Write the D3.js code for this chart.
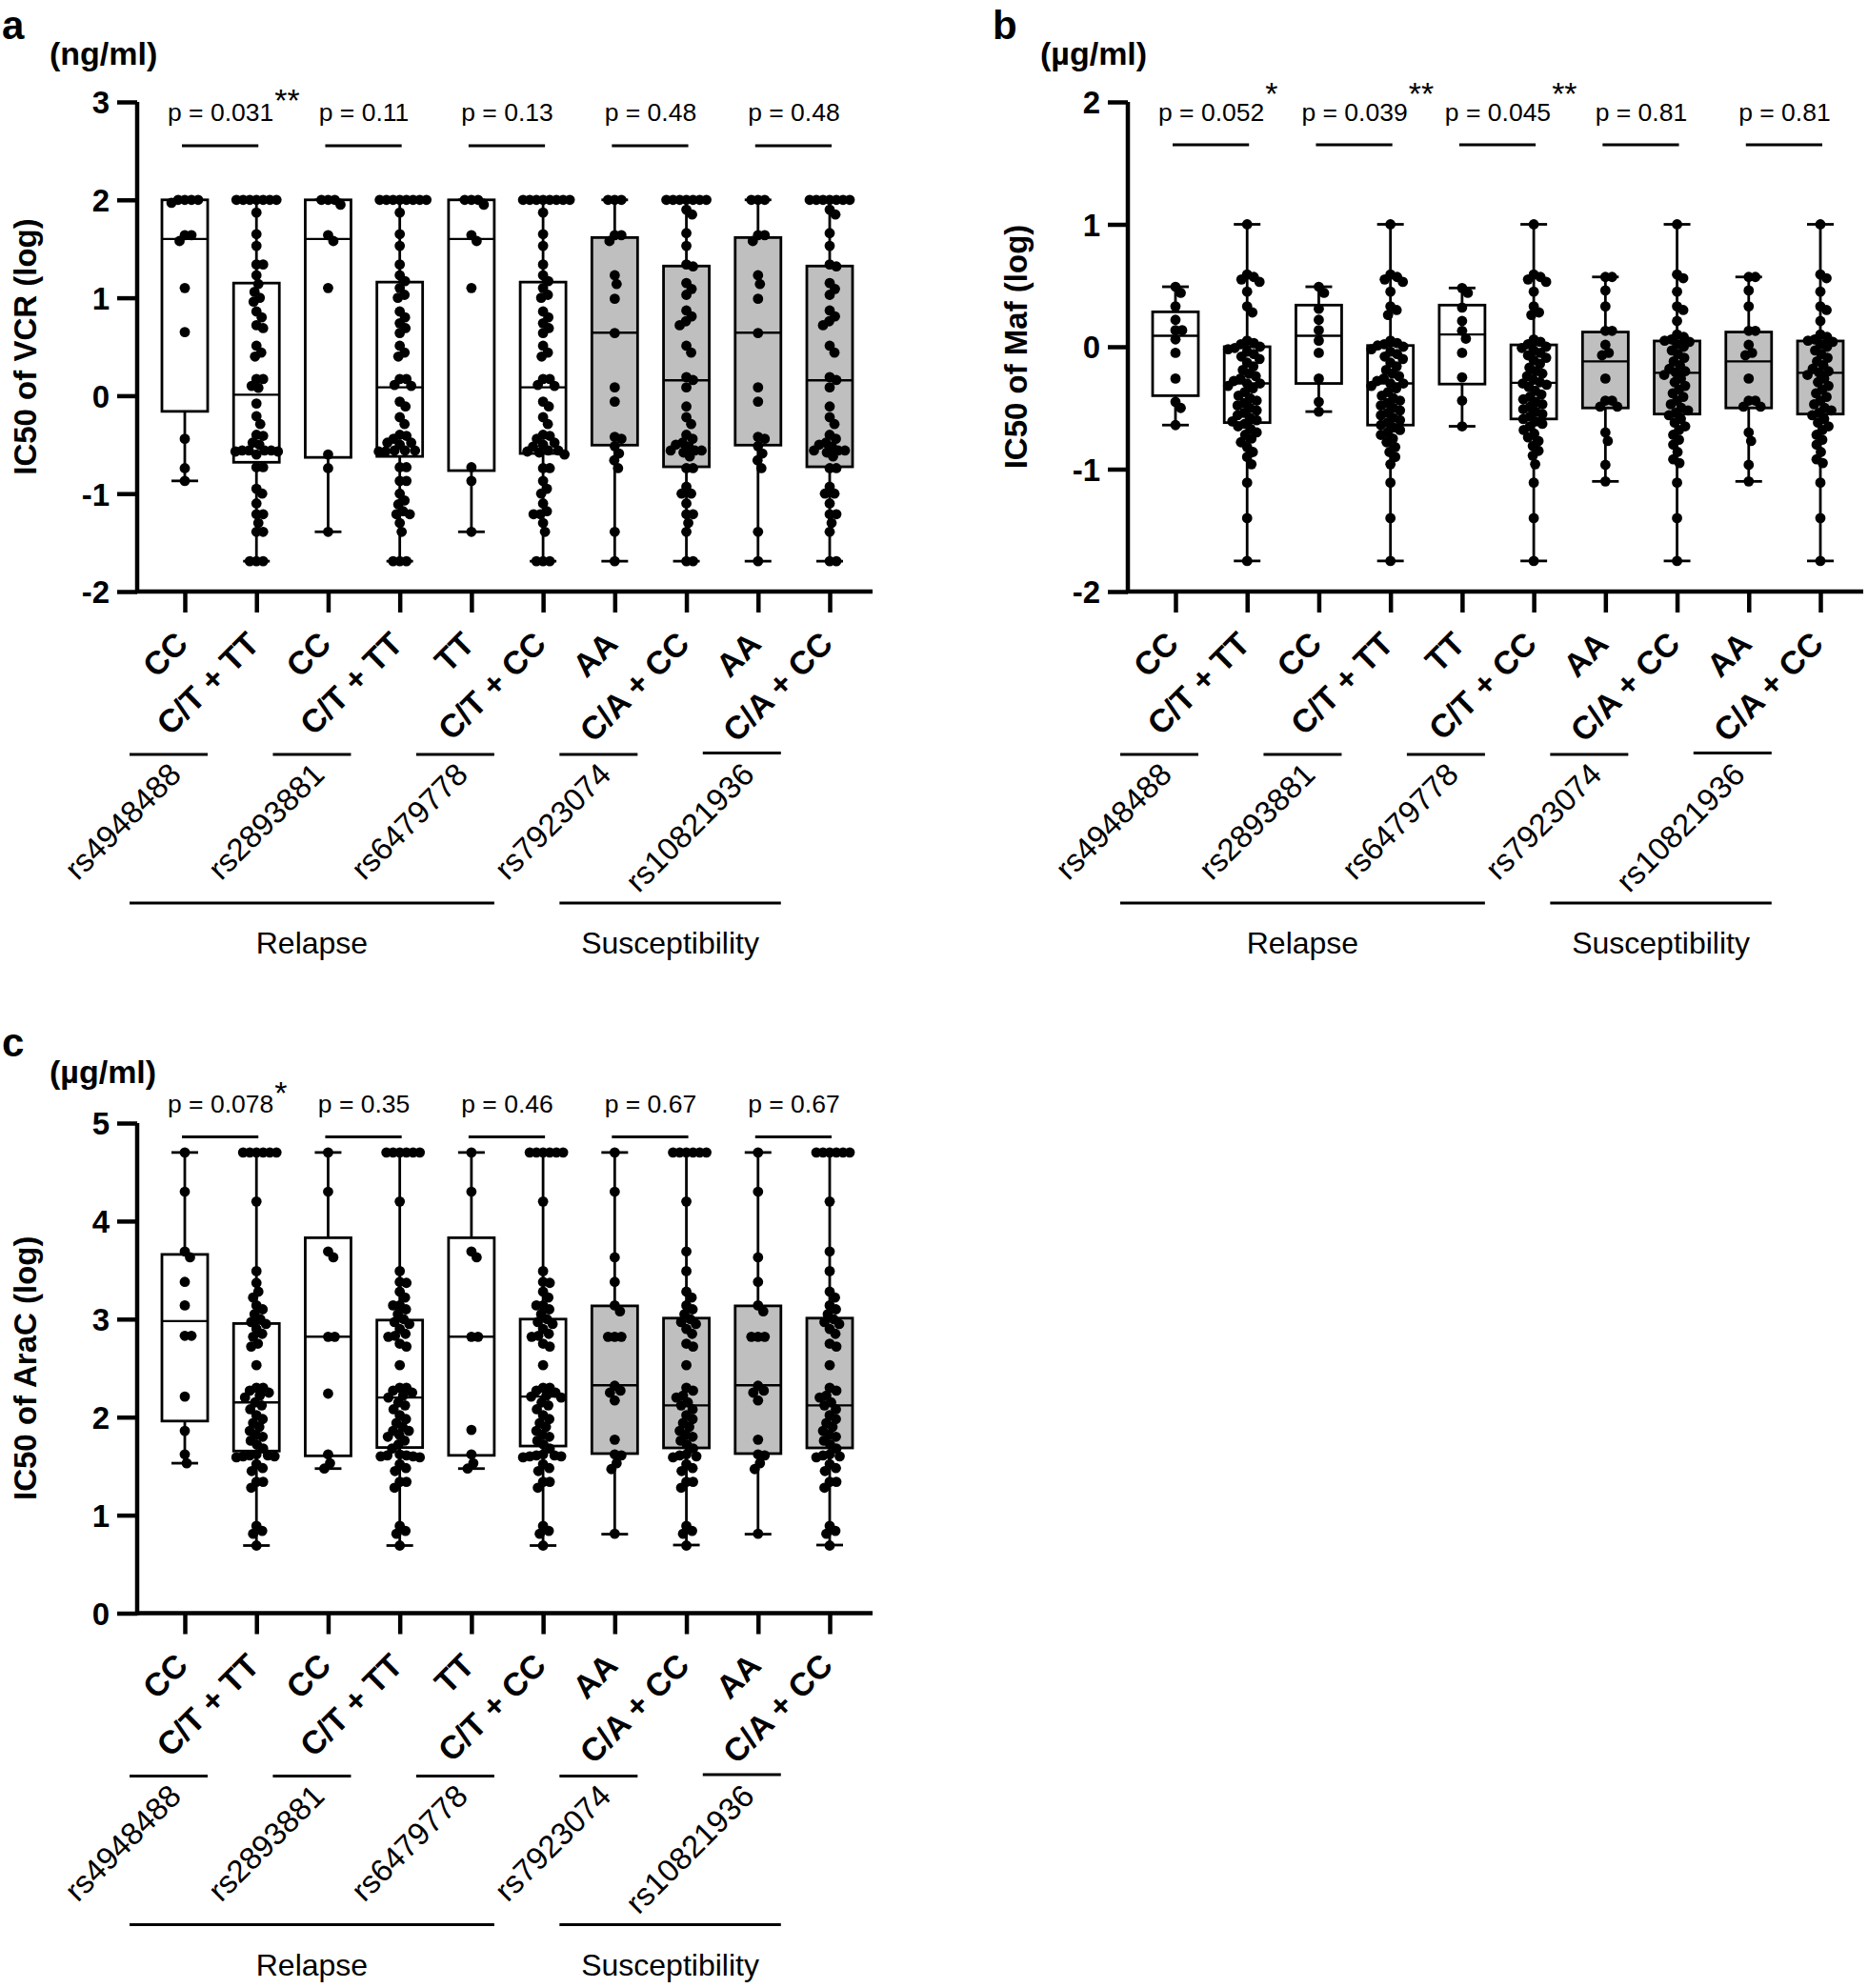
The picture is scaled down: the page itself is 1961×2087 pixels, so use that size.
<!DOCTYPE html>
<html>
<head>
<meta charset="utf-8">
<script src="https://cdn.jsdelivr.net/npm/d3@7"></script>
<style>
  html, body { margin: 0; padding: 0; background: #fff; }
  svg { display: block; font-family: "Liberation Sans", Arial, Helvetica, sans-serif; }
</style>
</head>
<body>
<svg id="chart" width="1961" height="2087"></svg>
<script>
// ---------------- DATA ----------------
const categories = ["CC", "C/T + TT", "CC", "C/T + TT", "TT", "C/T + CC", "AA", "C/A + CC", "AA", "C/A + CC"];
const snps = ["rs4948488", "rs2893881", "rs6479778", "rs7923074", "rs10821936"];
const cohortNames = ["Relapse", "Susceptibility"];
const cohortSnpCounts = [3, 2];

// Panel a : VCR
const vcrTicks = [-2, -1, 0, 1, 2, 3];
const vcrPValues = ["p = 0.031", "p = 0.11", "p = 0.13", "p = 0.48", "p = 0.48"];
const vcrStars = ["**", "", "", "", ""];
const vcrMin    = [-0.87, -1.69, -1.39, -1.69, -1.39, -1.69, -1.69, -1.69, -1.69, -1.69];
const vcrQ1     = [-0.16, -0.68, -0.63, -0.62, -0.765, -0.59, -0.505, -0.726, -0.505, -0.726];
const vcrMedian = [1.60, 0.01, 1.60, 0.085, 1.60, 0.085, 0.643, 0.157, 0.643, 0.157];
const vcrQ3     = [2.0, 1.15, 2.0, 1.16, 2.0, 1.16, 1.615, 1.324, 1.615, 1.324];
const vcrMax    = [2.0, 2.0, 2.0, 2.0, 2.0, 2.0, 2.0, 2.0, 2.0, 2.0];
const vcrCC1 = [2, 2, 2, 2, 1.97, 1.64, 1.64, 1.58, 1.1, 0.65, -0.44, -0.74, -0.87];
const vcrCT1 = [2, 2, 2, 2, 2, 2, 2, 1.87, 1.65, 1.53, 1.34, 1.34, 1.23, 1.14, 1.06, 1.0, 0.96, 0.86, 0.80, 0.72, 0.69, 0.51, 0.44, 0.40, 0.17, 0.17, 0.10, 0.08, -0.08, -0.21, -0.29, -0.40, -0.41, -0.48, -0.50, -0.56, -0.56, -0.56, -0.56, -0.57, -0.57, -0.60, -0.73, -0.73, -0.95, -1.0, -1.10, -1.21, -1.21, -1.30, -1.39, -1.39, -1.69, -1.69, -1.69];
const vcrCC2 = [2, 2, 2, 1.95, 1.64, 1.58, 1.1, -0.6, -0.74, -1.39];
const vcrCT2 = [2, 2, 2, 2, 2, 2, 2, 2, 1.87, 1.65, 1.53, 1.34, 1.23, 1.17, 1.10, 1.03, 1.0, 0.86, 0.80, 0.74, 0.69, 0.64, 0.51, 0.44, 0.40, 0.17, 0.17, 0.11, 0.10, -0.06, -0.11, -0.22, -0.29, -0.40, -0.41, -0.44, -0.48, -0.48, -0.50, -0.56, -0.56, -0.56, -0.57, -0.57, -0.73, -0.73, -0.87, -0.87, -1.0, -1.07, -1.11, -1.18, -1.21, -1.21, -1.30, -1.39, -1.69, -1.69, -1.69];
const vcrTT3 = [2, 2, 2, 1.95, 1.64, 1.58, 1.1, -0.73, -0.87, -1.39];
const vcrCT3 = [2, 2, 2, 2, 2, 2, 2, 2, 1.87, 1.65, 1.53, 1.34, 1.23, 1.17, 1.10, 1.03, 1.0, 0.86, 0.80, 0.74, 0.69, 0.64, 0.51, 0.44, 0.40, 0.17, 0.17, 0.11, 0.10, -0.06, -0.11, -0.22, -0.29, -0.40, -0.41, -0.44, -0.48, -0.50, -0.52, -0.56, -0.56, -0.57, -0.58, -0.60, -0.74, -0.74, -0.87, -0.95, -1.0, -1.10, -1.18, -1.21, -1.21, -1.30, -1.39, -1.69, -1.69, -1.69];
const vcrAA = [2, 2, 2, 1.64, 1.64, 1.58, 1.23, 1.14, 0.99, 0.64, 0.085, -0.06, -0.42, -0.44, -0.515, -0.59, -0.66, -0.74, -1.39, -1.69];
const vcrCA = [2, 2, 2, 2, 2, 2, 2, 1.90, 1.85, 1.66, 1.53, 1.34, 1.32, 1.15, 1.09, 1.03, 0.87, 0.81, 0.76, 0.72, 0.51, 0.44, 0.19, 0.16, 0.085, -0.11, -0.22, -0.29, -0.40, -0.44, -0.48, -0.50, -0.52, -0.56, -0.56, -0.56, -0.58, -0.62, -0.74, -0.74, -0.93, -1.0, -1.0, -1.10, -1.21, -1.21, -1.30, -1.39, -1.69, -1.69];
const vcrPoints = [vcrCC1, vcrCT1, vcrCC2, vcrCT2, vcrTT3, vcrCT3, vcrAA, vcrCA, vcrAA, vcrCA];

// Panel b : Maf
const mafTicks = [-2, -1, 0, 1, 2];
const mafPValues = ["p = 0.052", "p = 0.039", "p = 0.045", "p = 0.81", "p = 0.81"];
const mafStars = ["*", "**", "**", "", ""];
const mafMin    = [-0.64, -1.75, -0.53, -1.75, -0.65, -1.75, -1.10, -1.75, -1.10, -1.75];
const mafQ1     = [-0.40, -0.62, -0.30, -0.64, -0.305, -0.59, -0.50, -0.55, -0.50, -0.55];
const mafMedian = [0.09, -0.30, 0.09, -0.30, 0.10, -0.295, -0.12, -0.213, -0.12, -0.213];
const mafQ3     = [0.285, 0.0, 0.34, 0.01, 0.34, 0.015, 0.12, 0.047, 0.12, 0.047];
const mafMax    = [0.49, 1.0, 0.49, 1.0, 0.48, 1.0, 0.57, 1.0, 0.57, 1.0];
const mafCC1 = [0.49, 0.44, 0.33, 0.22, 0.135, 0.135, 0.06, -0.05, -0.26, -0.45, -0.50, -0.64];
const mafCT1 = [1.0, 0.59, 0.57, 0.55, 0.53, 0.45, 0.33, 0.28, 0.05, 0.03, 0.02, 0.0, -0.01, -0.02, -0.04, -0.06, -0.08, -0.10, -0.13, -0.16, -0.19, -0.22, -0.24, -0.26, -0.28, -0.30, -0.30, -0.32, -0.34, -0.37, -0.40, -0.42, -0.44, -0.46, -0.48, -0.50, -0.52, -0.54, -0.56, -0.58, -0.60, -0.61, -0.63, -0.65, -0.67, -0.70, -0.72, -0.75, -0.78, -0.82, -0.86, -0.90, -0.96, -1.11, -1.40, -1.75];
const mafCC2 = [0.49, 0.44, 0.31, 0.22, 0.135, 0.05, -0.05, -0.26, -0.45, -0.53];
const mafCT2 = [1.0, 0.59, 0.57, 0.55, 0.53, 0.45, 0.33, 0.30, 0.26, 0.05, 0.03, 0.02, 0.01, 0.0, -0.02, -0.04, -0.06, -0.08, -0.10, -0.13, -0.16, -0.19, -0.22, -0.24, -0.26, -0.28, -0.30, -0.30, -0.32, -0.34, -0.37, -0.40, -0.42, -0.44, -0.46, -0.48, -0.50, -0.52, -0.54, -0.56, -0.58, -0.60, -0.62, -0.64, -0.66, -0.68, -0.70, -0.72, -0.75, -0.78, -0.82, -0.86, -0.90, -0.96, -1.11, -1.40, -1.75];
const mafTT3 = [0.48, 0.44, 0.32, 0.21, 0.13, 0.066, -0.05, -0.25, -0.44, -0.65];
const mafCT3 = [1.0, 0.59, 0.57, 0.55, 0.53, 0.45, 0.33, 0.28, 0.26, 0.06, 0.04, 0.02, 0.0, -0.01, -0.03, -0.05, -0.07, -0.09, -0.11, -0.14, -0.17, -0.20, -0.22, -0.24, -0.27, -0.29, -0.30, -0.31, -0.33, -0.36, -0.39, -0.41, -0.43, -0.45, -0.47, -0.49, -0.51, -0.53, -0.55, -0.57, -0.59, -0.61, -0.63, -0.65, -0.68, -0.71, -0.74, -0.77, -0.81, -0.85, -0.89, -0.96, -1.11, -1.40, -1.75];
const mafAA = [0.57, 0.57, 0.46, 0.33, 0.13, 0.13, 0.016, -0.05, -0.07, -0.26, -0.44, -0.44, -0.49, -0.49, -0.70, -0.77, -0.965, -1.10];
const mafCA = [1.0, 0.59, 0.56, 0.45, 0.33, 0.30, 0.21, 0.10, 0.08, 0.06, 0.05, 0.04, 0.02, 0.0, -0.03, -0.06, -0.09, -0.12, -0.15, -0.18, -0.20, -0.21, -0.23, -0.26, -0.29, -0.32, -0.35, -0.38, -0.41, -0.44, -0.47, -0.50, -0.52, -0.54, -0.56, -0.59, -0.62, -0.65, -0.68, -0.72, -0.76, -0.80, -0.86, -0.92, -0.95, -1.11, -1.40, -1.75];
const mafPoints = [mafCC1, mafCT1, mafCC2, mafCT2, mafTT3, mafCT3, mafAA, mafCA, mafAA, mafCA];

// Panel c : AraC
const aracTicks = [0, 1, 2, 3, 4, 5];
const aracPValues = ["p = 0.078", "p = 0.35", "p = 0.46", "p = 0.67", "p = 0.67"];
const aracStars = ["*", "", "", "", ""];
const aracMin    = [1.53, 0.69, 1.475, 0.69, 1.475, 0.69, 0.806, 0.695, 0.806, 0.695];
const aracQ1     = [1.96, 1.654, 1.605, 1.69, 1.61, 1.705, 1.628, 1.686, 1.628, 1.686];
const aracMedian = [2.98, 2.15, 2.82, 2.20, 2.82, 2.21, 2.325, 2.12, 2.325, 2.12];
const aracQ3     = [3.66, 2.955, 3.83, 2.99, 3.83, 3.0, 3.135, 3.01, 3.135, 3.01];
const aracMax    = [4.70, 4.70, 4.70, 4.70, 4.70, 4.70, 4.70, 4.70, 4.70, 4.70];
const aracCC1 = [4.70, 4.30, 3.69, 3.63, 3.38, 3.14, 2.83, 2.83, 2.21, 1.86, 1.62, 1.53];
const aracCT1 = [4.70, 4.70, 4.70, 4.70, 4.70, 4.70, 4.20, 3.49, 3.37, 3.28, 3.22, 3.14, 3.10, 3.05, 3.00, 2.97, 2.95, 2.90, 2.85, 2.82, 2.75, 2.72, 2.53, 2.30, 2.30, 2.27, 2.25, 2.22, 2.20, 2.15, 2.12, 2.08, 2.02, 1.98, 1.94, 1.90, 1.86, 1.82, 1.80, 1.76, 1.72, 1.68, 1.62, 1.61, 1.61, 1.60, 1.60, 1.59, 1.52, 1.48, 1.45, 1.34, 1.34, 1.28, 0.89, 0.84, 0.81, 0.69];
const aracCC2 = [4.70, 4.30, 3.69, 3.63, 2.82, 2.82, 2.24, 1.62, 1.53, 1.475];
const aracCT2 = [4.70, 4.70, 4.70, 4.70, 4.70, 4.70, 4.20, 3.49, 3.38, 3.37, 3.28, 3.22, 3.14, 3.14, 3.10, 3.05, 3.00, 2.97, 2.95, 2.90, 2.85, 2.83, 2.82, 2.75, 2.72, 2.53, 2.30, 2.30, 2.27, 2.25, 2.22, 2.20, 2.15, 2.12, 2.08, 2.02, 1.98, 1.94, 1.90, 1.86, 1.86, 1.82, 1.80, 1.76, 1.72, 1.68, 1.62, 1.61, 1.61, 1.60, 1.60, 1.59, 1.52, 1.48, 1.45, 1.34, 1.34, 1.28, 0.89, 0.84, 0.81, 0.69];
const aracTT3 = [4.70, 4.30, 3.69, 3.63, 2.82, 2.82, 1.87, 1.62, 1.53, 1.475];
const aracCT3 = [4.70, 4.70, 4.70, 4.70, 4.70, 4.70, 4.20, 3.49, 3.38, 3.37, 3.28, 3.22, 3.14, 3.14, 3.10, 3.05, 3.00, 2.97, 2.95, 2.90, 2.85, 2.83, 2.82, 2.75, 2.72, 2.53, 2.30, 2.30, 2.27, 2.25, 2.22, 2.21, 2.20, 2.15, 2.12, 2.08, 2.02, 1.98, 1.94, 1.90, 1.86, 1.82, 1.80, 1.76, 1.72, 1.68, 1.62, 1.61, 1.61, 1.60, 1.60, 1.59, 1.52, 1.48, 1.45, 1.34, 1.34, 1.28, 0.89, 0.84, 0.81, 0.69];
const aracAA = [4.70, 4.30, 3.63, 3.38, 3.14, 3.08, 2.82, 2.82, 2.82, 2.32, 2.27, 2.25, 2.17, 1.77, 1.62, 1.61, 1.53, 1.47, 0.81];
const aracCA = [4.70, 4.70, 4.70, 4.70, 4.70, 4.70, 4.20, 3.69, 3.49, 3.28, 3.22, 3.14, 3.10, 3.05, 3.00, 2.97, 2.95, 2.90, 2.85, 2.75, 2.72, 2.53, 2.30, 2.27, 2.22, 2.20, 2.15, 2.12, 2.08, 2.02, 1.98, 1.94, 1.90, 1.86, 1.82, 1.80, 1.76, 1.72, 1.68, 1.62, 1.61, 1.60, 1.59, 1.52, 1.48, 1.45, 1.34, 1.34, 1.28, 0.89, 0.84, 0.81, 0.69];
const aracPoints = [aracCC1, aracCT1, aracCC2, aracCT2, aracTT3, aracCT3, aracAA, aracCA, aracAA, aracCA];

// ---------------- DRAWING ----------------
const svg = d3.select("#chart");
svg.append("rect").attr("width", 1961).attr("height", 2087).attr("fill", "#fff");

const panels = [
  { letter: "a", unit: "(ng/ml)", title: "IC50 of VCR (log)", x0: 144, yTop: 107, yBot: 621, domain: [-2, 3],
    ticks: vcrTicks, pvals: vcrPValues, stars: vcrStars, mins: vcrMin, q1: vcrQ1, med: vcrMedian, q3: vcrQ3, maxs: vcrMax, pts: vcrPoints,
    letterY: 41, unitY: 68, pTextY: 127, barY: 153, starY: 117 },
  { letter: "b", unit: "(\u00b5g/ml)", title: "IC50 of Maf (log)", x0: 1184, yTop: 107, yBot: 621, domain: [-2, 2],
    ticks: mafTicks, pvals: mafPValues, stars: mafStars, mins: mafMin, q1: mafQ1, med: mafMedian, q3: mafQ3, maxs: mafMax, pts: mafPoints,
    letterY: 41, unitY: 68, pTextY: 127, barY: 152, starY: 110 },
  { letter: "c", unit: "(\u00b5g/ml)", title: "IC50 of AraC (log)", x0: 144, yTop: 1179, yBot: 1693.5, domain: [0, 5],
    ticks: aracTicks, pvals: aracPValues, stars: aracStars, mins: aracMin, q1: aracQ1, med: aracMedian, q3: aracQ3, maxs: aracMax, pts: aracPoints,
    letterY: 1109, unitY: 1137, pTextY: 1168, barY: 1193.5, starY: 1159 }
];

// simple beeswarm: elliptical exclusion zone (wider vertically than horizontally)
function swarm(vals, ys, hx, hy) {
  const pts = vals.map(v => ({ v, y: ys(v) })).sort((a, b) => a.y - b.y || a.v - b.v);
  const placed = [];
  for (const p of pts) {
    let best = null;
    for (let k = 0; k < 400 && best === null; k++) {
      const cands = k === 0 ? [0] : [k * 0.5, -k * 0.5];
      for (const off of cands) {
        if (placed.every(q => ((q.dx - off) / hx) ** 2 + ((q.y - p.y) / hy) ** 2 >= 1)) { best = off; break; }
      }
    }
    p.dx = best; placed.push(p);
  }
  return pts;
}

const BOLD = "bold";

panels.forEach(P => {
  const g = svg.append("g");
  const width = 772;
  const y = d3.scaleLinear().domain(P.domain).range([P.yBot, P.yTop]);
  const x = d3.scalePoint().domain(d3.range(categories.length)).range([P.x0 + 50, P.x0 + 727]);

  // panel letter, unit, y title
  g.append("text").attr("x", P.x0 - 142).attr("y", P.letterY).attr("font-size", 42).attr("font-weight", BOLD).text(P.letter);
  g.append("text").attr("x", P.x0 - 92).attr("y", P.unitY).attr("font-size", 34).attr("font-weight", BOLD).text(P.unit);
  g.append("text")
    .attr("transform", `translate(${P.x0 - 106},${(P.yTop + P.yBot) / 2}) rotate(-90)`)
    .attr("text-anchor", "middle").attr("font-size", 33).attr("font-weight", BOLD).text(P.title);

  // Y axis
  const yAxis = d3.axisLeft(y).tickValues(P.ticks).tickSize(21).tickPadding(8).tickFormat(d => String(d));
  const ya = g.append("g").attr("transform", `translate(${P.x0},0)`).call(yAxis);
  ya.select(".domain").attr("stroke", "#000").attr("stroke-width", 4.5).attr("d", `M0,${P.yTop}V${P.yBot + 2}`);
  ya.selectAll(".tick line").attr("stroke", "#000").attr("stroke-width", 4.5);
  ya.selectAll(".tick text").attr("font-size", 33).attr("font-weight", BOLD).attr("fill", "#000")
    .attr("font-family", "Liberation Sans, Arial, sans-serif").attr("dy", "0.36em");

  // X axis
  const xAxis = d3.axisBottom(x).tickSize(22).tickFormat("");
  const xa = g.append("g").attr("transform", `translate(0,${P.yBot})`).call(xAxis);
  xa.select(".domain").attr("stroke", "#000").attr("stroke-width", 4.5).attr("d", `M${P.x0 - 2},0H${P.x0 + width}`);
  xa.selectAll(".tick line").attr("stroke", "#000").attr("stroke-width", 4.5);

  // category labels
  categories.forEach((c, i) => {
    g.append("text")
      .attr("transform", `translate(${x(i) + 5},${P.yBot + 57}) rotate(-45)`)
      .attr("text-anchor", "end").attr("font-size", 34).attr("font-weight", BOLD).text(c);
  });

  // SNP lines and labels
  snps.forEach((s, k) => {
    const xa1 = x(2 * k);
    const ly = P.yBot + (k === 4 ? 169.5 : 171);
    g.append("line").attr("x1", xa1 - 58).attr("x2", xa1 + 24).attr("y1", ly).attr("y2", ly)
      .attr("stroke", "#000").attr("stroke-width", 3);
    g.append("text")
      .attr("transform", `translate(${xa1 - 2},${P.yBot + 194}) rotate(-45)`)
      .attr("text-anchor", "end").attr("font-size", 33).text(s);
  });

  // cohort lines & labels
  let start = 0;
  cohortNames.forEach((name, ci) => {
    const n = cohortSnpCounts[ci];
    const xs = x(2 * start) - 58, xe = x(2 * (start + n - 1)) + 24;
    g.append("line").attr("x1", xs).attr("x2", xe).attr("y1", P.yBot + 327).attr("y2", P.yBot + 327)
      .attr("stroke", "#000").attr("stroke-width", 3);
    g.append("text").attr("x", (xs + xe) / 2).attr("y", P.yBot + 380).attr("text-anchor", "middle")
      .attr("font-size", 32).text(name);
    start += n;
  });

  // p-values and bars
  P.pvals.forEach((pv, k) => {
    const x1 = x(2 * k), x2 = x(2 * k + 1);
    const t = g.append("text").attr("x", (x1 + x2) / 2).attr("y", P.pTextY).attr("text-anchor", "middle")
      .attr("font-size", 26.5).text(pv);
    g.append("line").attr("x1", x1 - 3).attr("x2", x2 + 2).attr("y1", P.barY).attr("y2", P.barY)
      .attr("stroke", "#000").attr("stroke-width", 3);
    if (P.stars[k]) {
      const len = t.node().getComputedTextLength();
      g.append("text").attr("x", (x1 + x2) / 2 + len / 2 + 1).attr("y", P.starY)
        .attr("font-size", 34).text(P.stars[k]);
    }
  });

  // boxes
  const bw = 48, cap = 14;
  categories.forEach((c, i) => {
    const cx = x(i);
    const shaded = i >= 6;
    const bg = g.append("g");
    bg.append("line").attr("x1", cx).attr("x2", cx).attr("y1", y(P.maxs[i])).attr("y2", y(P.q3[i]))
      .attr("stroke", "#000").attr("stroke-width", 2.8);
    bg.append("line").attr("x1", cx).attr("x2", cx).attr("y1", y(P.q1[i])).attr("y2", y(P.mins[i]))
      .attr("stroke", "#000").attr("stroke-width", 2.8);
    bg.append("line").attr("x1", cx - cap).attr("x2", cx + cap).attr("y1", y(P.maxs[i])).attr("y2", y(P.maxs[i]))
      .attr("stroke", "#000").attr("stroke-width", 2.8);
    bg.append("line").attr("x1", cx - cap).attr("x2", cx + cap).attr("y1", y(P.mins[i])).attr("y2", y(P.mins[i]))
      .attr("stroke", "#000").attr("stroke-width", 2.8);
    bg.append("rect").attr("x", cx - bw / 2).attr("width", bw)
      .attr("y", y(P.q3[i])).attr("height", Math.max(0, y(P.q1[i]) - y(P.q3[i])))
      .attr("fill", shaded ? "#bfbfbf" : "#fff").attr("stroke", "#000").attr("stroke-width", 2.8);
    bg.append("line").attr("x1", cx - bw / 2).attr("x2", cx + bw / 2).attr("y1", y(P.med[i])).attr("y2", y(P.med[i]))
      .attr("stroke", "#000").attr("stroke-width", 2.4);

    // points
    const sw = swarm(P.pts[i], y, 7.0, 9.5);
    g.append("g").selectAll("circle").data(sw).join("circle")
      .attr("cx", d => cx + d.dx).attr("cy", d => d.y).attr("r", 5.4).attr("fill", "#000");
  });
});
</script>
</body>
</html>
